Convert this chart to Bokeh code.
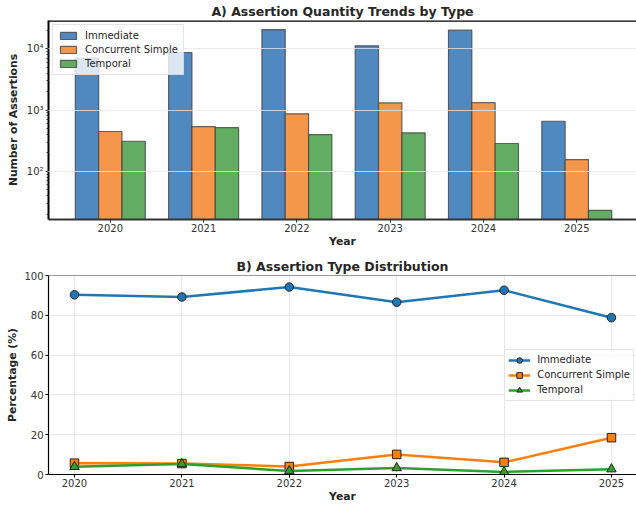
from bokeh.plotting import figure
from bokeh.layouts import column
from bokeh.models import (ColumnDataSource, Range1d, FixedTicker, CustomJSTickFormatter,
                          Legend, LegendItem, Span)
from bokeh.transform import dodge
from bokeh.embed import file_html
from bokeh.resources import INLINE

years = [2020, 2021, 2022, 2023, 2024, 2025]
year_labels = ["2020", "2021", "2022", "2023", "2024", "2025"]
immediate_counts = [7050, 8700, 20650, 11200, 20130, 656]
concurrent_counts = [446, 537, 867, 1312, 1320, 155]
temporal_counts = [309, 517, 398, 424, 284, 23]

immediate_pct = [90.3, 89.2, 94.2, 86.6, 92.6, 78.8]
concurrent_pct = [5.7, 5.5, 4.0, 10.1, 6.1, 18.5]
temporal_pct = [3.9, 5.3, 1.8, 3.3, 1.3, 2.7]

series_names = ["Immediate", "Concurrent Simple", "Temporal"]
bar_colors = ["#5088c0", "#f5974a", "#62ad62"]
line_colors = ["#1f77b4", "#ff7f0e", "#2ca02c"]

FONT = "DejaVu Sans"
TXT = "#262626"

src = ColumnDataSource(dict(year=years, imm=immediate_counts, conc=concurrent_counts,
                            temp=temporal_counts))

Y1_TOP = 29000
Y2_TOP = 100

# ---------------- Top chart ----------------
p1 = figure(frame_width=588, frame_height=199, y_axis_type="log",
            x_range=Range1d(2019.3375, 2025.64), y_range=Range1d(16.3, Y1_TOP),
            output_backend="svg", toolbar_location=None,
            min_border_left=48, min_border_right=0, min_border_top=0, min_border_bottom=30,
            title="A) Assertion Quantity Trends by Type")

bar_w = 0.25
renderers1 = []
for col, off, c in zip(["imm", "conc", "temp"], [-0.25, 0.0, 0.25], bar_colors):
    r = p1.vbar(x=dodge("year", off), top=col, bottom=1, width=bar_w, source=src,
                fill_color=c, line_color="#444444", line_alpha=0.8, line_width=1.2)
    renderers1.append(r)

leg1 = Legend(items=[LegendItem(label=n, renderers=[r]) for n, r in zip(series_names, renderers1)],
              location="top_left")
p1.add_layout(leg1)

# ---------------- Bottom chart ----------------
p2 = figure(frame_width=588, frame_height=199,
            x_range=Range1d(2019.758, 2025.233), y_range=Range1d(0, Y2_TOP),
            output_backend="svg", toolbar_location=None,
            min_border_left=48, min_border_right=0, min_border_top=25, min_border_bottom=30,
            title="B) Assertion Type Distribution")

pct_series = [immediate_pct, concurrent_pct, temporal_pct]
markers = ["circle", "square", "triangle"]
items2 = []
for n, vals, c, m in zip(series_names, pct_series, line_colors, markers):
    ln = p2.line(years, vals, line_color=c, line_width=2.5)
    sc = p2.scatter(years, vals, marker=m, size=8.5 if m != "triangle" else 9.5,
                    fill_color=c, line_color="#222222", line_width=1)
    items2.append(LegendItem(label=n, renderers=[ln, sc]))
leg2 = Legend(items=items2, location="right")
p2.add_layout(leg2)

# ---------------- Styling ----------------
sup_code = """
const sup = {"0":"\u2070","1":"\u00b9","2":"\u00b2","3":"\u00b3","4":"\u2074","5":"\u2075","6":"\u2076","7":"\u2077","8":"\u2078","9":"\u2079","-":"\u207b"};
const e = Math.round(Math.log10(tick));
return "10" + String(e).split("").map(c => sup[c]).join("");
"""
p1.yaxis.formatter = CustomJSTickFormatter(code=sup_code)

for p, top_w, top_c, ytop in ((p1, 2.5, "black", Y1_TOP), (p2, 1.2, "#333333", Y2_TOP)):
    p.add_layout(Span(location=ytop, dimension="width", line_color=top_c, line_width=top_w,
                      level="overlay"))
    p.outline_line_color = None
    p.title.text_font = FONT
    p.title.text_font_size = "12.5px"
    p.title.text_font_style = "bold"
    p.title.text_color = TXT
    p.title.align = "center"
    p.title.standoff = 3
    p.xaxis.ticker = FixedTicker(ticks=years)
    p.xaxis.major_label_overrides = {y: l for y, l in zip(years, year_labels)}
    p.xaxis.axis_label = "Year"
    for ax in (p.xaxis[0], p.yaxis[0]):
        ax.axis_label_text_font = FONT
        ax.axis_label_text_font_size = "10.8px"
        ax.axis_label_text_font_style = "bold"
        ax.axis_label_text_color = TXT
        ax.major_label_text_font = FONT
        ax.major_label_text_font_size = "10px"
        ax.major_label_text_color = "#333333"
        ax.major_tick_out = 3
        ax.major_tick_in = 0
        ax.major_label_standoff = 2
        ax.axis_label_standoff = 0
        ax.minor_tick_in = 0
    p.xaxis.minor_tick_line_color = None
    p.xaxis.major_label_standoff = 1
    for lg in p.legend:
        lg.label_text_font = FONT
        lg.label_text_font_size = "10px"
        lg.label_text_color = TXT
        lg.background_fill_color = "white"
        lg.background_fill_alpha = 0.8
        lg.border_line_color = "#cccccc"
        lg.border_line_width = 1
        lg.label_standoff = 7
    p.background_fill_color = "white"

p1.yaxis.axis_label = "Number of Assertions"
p2.yaxis.axis_label = "Percentage (%)"
p1.yaxis.minor_tick_out = 2
p1.yaxis.axis_label_standoff = 4
p2.yaxis.axis_label_standoff = 2
p2.yaxis.minor_tick_line_color = None
p2.yaxis.ticker = FixedTicker(ticks=[0, 20, 40, 60, 80, 100])

# top chart axes and grid
p1.xaxis.axis_line_color = "#333333"
p1.xaxis.axis_line_width = 2
p1.yaxis.axis_line_color = "black"
p1.yaxis.axis_line_width = 2
p1.xaxis.major_tick_line_color = "#333333"
p1.yaxis.major_tick_line_color = "#333333"
p1.yaxis.minor_tick_line_color = "#333333"
p1.xgrid.grid_line_color = None
p1.ygrid.grid_line_color = "#e6e6e6"
p1.ygrid.grid_line_alpha = 0.8
p1.ygrid.level = "overlay"
leg1.margin = 4
leg1.padding = 5
leg1.spacing = 3
leg1.glyph_width = 20
leg1.glyph_height = 9
leg1.label_height = 9

# bottom chart axes and grid
p2.xaxis.axis_line_color = "black"
p2.yaxis.axis_line_color = "black"
p2.xaxis.axis_line_width = 1.2
p2.yaxis.axis_line_width = 1.2
p2.xgrid.grid_line_color = "#e8e8e8"
p2.ygrid.grid_line_color = "#e8e8e8"
leg2.margin = 2
leg2.padding = 3
leg2.spacing = 1
leg2.glyph_width = 22
leg2.glyph_height = 14
leg2.label_height = 14

layout = column(p1, p2, spacing=0)
open("out.html", "w").write(file_html(layout, INLINE))
